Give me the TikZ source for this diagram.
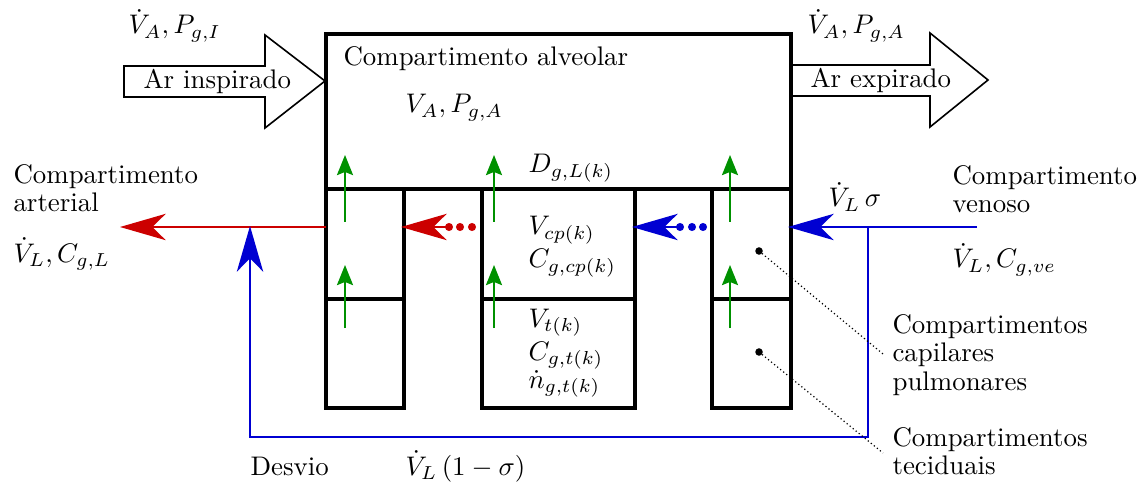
\documentclass[tikz,border=0pt]{standalone}
\usetikzlibrary{arrows.meta,fit}
\definecolor{myred}{RGB}{204,0,0}
\definecolor{myblue}{RGB}{0,0,210}
\definecolor{mygreen}{RGB}{0,145,0}
\begin{document}
\begin{tikzpicture}[x=0.372pt,y=-0.372pt,
  wall/.style={draw=black,line width=1.7pt,inner sep=0pt,outer sep=0pt,line join=miter},
  txt/.style={inner sep=0pt,anchor=base west},
  ml/.style={inner sep=0pt,anchor=north west,align=left,font=\fontsize{10}{10.6}\selectfont},
  blockarrow/.style={draw=black,line width=0.6pt,line join=miter},
  bigred/.style={draw=myred,line width=0.8pt,-{Stealth[length=17pt,width=9.8pt,inset=5pt]}},
  bigblue/.style={draw=myblue,line width=0.8pt,-{Stealth[length=17pt,width=9.8pt,inset=5pt]}},
  gflow/.style={draw=mygreen,line width=0.6pt,-{Stealth[length=7.5pt,width=6pt,inset=1.2pt]}},
  leader/.style={draw=black,line width=0.45pt,densely dotted},
  bdot/.style={fill=black},
]
\useasboundingbox (0,0) rectangle (1148,483);

% block arrows
\draw[blockarrow] (124,66) -- (265,66) -- (265,35) -- (325,81) -- (265,128) -- (265,97) -- (124,97) -- cycle;
\draw[blockarrow] (791,65) -- (930,65) -- (930,33) -- (988,80) -- (930,127) -- (930,96) -- (791,96);

% compartments
\node[wall,fit={(326,34)(791,189)}] (alv) {};
\node[wall,fit={(326,189)(404,299)}] (lc1) {};
\node[wall,fit={(326,299)(404,408)}] (lc2) {};
\node[wall,fit={(482,189)(635,299)}] (mc1) {};
\node[wall,fit={(482,299)(635,408)}] (mc2) {};
\node[wall,fit={(712,189)(791,299)}] (rc1) {};
\node[wall,fit={(712,299)(791,408)}] (rc2) {};

% green diffusion arrows
\foreach \gx in {345,494,730}{
  \coordinate (gua\gx) at (\gx,222); \coordinate (gub\gx) at (\gx,155);
  \coordinate (gla\gx) at (\gx,328); \coordinate (glb\gx) at (\gx,265);
  \draw[gflow] (gua\gx) -- (gub\gx);
  \draw[gflow] (gla\gx) -- (glb\gx);
}

% texts
\node[txt] (vaI) at (128,34) {$\dot V_A, P_{g,I}$};
\node[txt] (arIn) at (143,89) {Ar inspirado};
\node[txt] (vaA2) at (807,34) {$\dot V_A, P_{g,A}$};
\node[txt] (arEx) at (810,88) {Ar expirado};
\node[txt] (alvT) at (343,66) {Compartimento alveolar};
\node[txt] (alvV) at (405,113) {$V_A, P_{g,A}$};
\node[txt] (dgl) at (528,173) {$D_{g,L(k)}$};
\node[txt] (vcp) at (528,235) {$V_{cp(k)}$};
\node[txt] (cgcp) at (528,268) {$C_{g,cp(k)}$};
\node[txt] (vt) at (528,327) {$V_{t(k)}$};
\node[txt] (cgt) at (528,360) {$C_{g,t(k)}$};
\node[txt] (ngt) at (528,388) {$\dot n_{g,t(k)}$};
\node[ml] (art) at (13,164) {Compartimento\\arterial};
\node[txt] (vlL) at (13,262) {$\dot V_L, C_{g,L}$};
\node[ml] (ven) at (952,165) {Compartimento\\venoso};
\node[txt] (vlve) at (952,268) {$\dot V_L, C_{g,ve}$};
\node[txt] (vls) at (828,207) {$\dot V_L\,\sigma$};
\node[ml] (cap) at (892,314) {Compartimentos\\capilares\\pulmonares};
\node[ml] (tec) at (892,427) {Compartimentos\\teciduais};
\node[txt] (desv) at (250,475) {Desvio};
\node[txt] (vl1s) at (405,475) {$\dot V_L\,(1-\sigma)$};

% arterial outflow (red)
\coordinate (artOut) at (120,227);
\draw[bigred] (lc1.west |- artOut) -- (artOut);

% red dotted arrow
\coordinate (rdS) at (450,227);
\coordinate (rdE) at (401,227);
\draw[bigred] (rdS) -- (rdE);
\foreach \dx in {449,460,472}{\fill[myred] (\dx,227) circle[radius=1.5pt];}

% blue dotted arrow
\coordinate (bdS) at (681,227);
\coordinate (bdE) at (632,227);
\draw[bigblue] (bdS) -- (bdE);
\foreach \dx in {680,692,703}{\fill[myblue] (\dx,227) circle[radius=1.5pt];}

% venous inflow (blue)
\coordinate (venIn) at (977,227);
\coordinate (venEnd) at (788,227);
\draw[bigblue] (venIn) -- (venEnd);

% shunt
\coordinate (sh0) at (868,227);
\coordinate (sh1) at (250,437);
\coordinate (shEnd) at (250,226);
\draw[bigblue] (sh0) |- (sh1) -- (shEnd);

% leader lines
\coordinate (d1) at (759,251); \coordinate (d1e) at (883,354);
\coordinate (d2) at (759,352); \coordinate (d2e) at (883,453);
\draw[leader] (d1) -- (d1e);
\draw[leader] (d2) -- (d2e);
\fill[bdot] (d1) circle[radius=1.4pt];
\fill[bdot] (d2) circle[radius=1.4pt];
\end{tikzpicture}
\end{document}
